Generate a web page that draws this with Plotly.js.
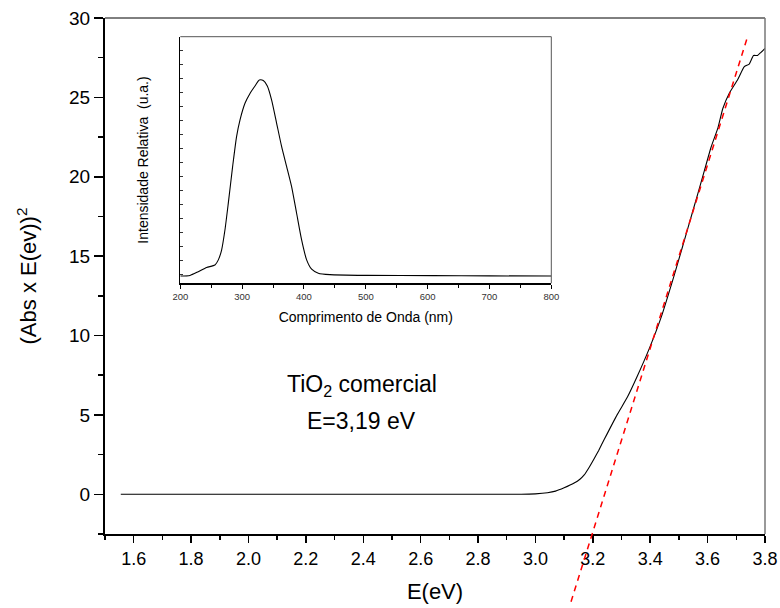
<!DOCTYPE html>
<html>
<head>
<meta charset="utf-8">
<script src="https://cdn.plot.ly/plotly-3.0.1.min.js"></script>
<style>html,body{margin:0;padding:0;background:#fff;}#chart{width:780px;height:608px;}</style>
</head>
<body>
<div id="chart"></div>
<script>
// ---- Data: main Tauc plot ----
const energyEV = [1.555, 2.0, 2.5, 2.9, 2.95, 3.0, 3.042, 3.07, 3.10, 3.135, 3.155, 3.17, 3.188, 3.205, 3.22, 3.24, 3.286, 3.321, 3.356, 3.397, 3.438, 3.484, 3.531, 3.566, 3.589, 3.612, 3.636, 3.653, 3.676, 3.705, 3.728, 3.745, 3.76, 3.774, 3.786, 3.80];
const absTimesE2 = [0, 0, 0, 0, 0, 0.03, 0.1, 0.2, 0.41, 0.71, 0.95, 1.22, 1.72, 2.25, 2.75, 3.46, 5.05, 6.14, 7.48, 9.19, 11.14, 13.82, 16.75, 18.94, 20.4, 21.86, 23.08, 24.3, 25.28, 26.13, 26.94, 27.1, 27.64, 27.64, 27.84, 28.08];
// linear fit (tangent) endpoints
const fitEnergy = [3.124, 3.74];
const fitValue = [-6.77, 28.86];

// ---- Data: inset spectrum ----
const wavelengthNm = [200, 215.6, 229, 242.6, 256, 261.5, 266.8, 272.2, 277.6, 284.6, 291, 296.5, 304.6, 312.7, 320.8, 327.8, 334.2, 340.7, 347.7, 355.8, 363.9, 372, 380, 388.1, 396.2, 404.3, 412.4, 423.2, 442, 501.4, 609, 700, 800];
const relIntensity = [0.0297, 0.032, 0.047, 0.064, 0.074, 0.095, 0.135, 0.216, 0.324, 0.473, 0.595, 0.662, 0.73, 0.77, 0.80, 0.824, 0.822, 0.80, 0.743, 0.649, 0.554, 0.473, 0.392, 0.284, 0.176, 0.095, 0.057, 0.041, 0.035, 0.032, 0.031, 0.030, 0.0297];

// ---- Texts ----
const xTitle = 'E(eV)';
const yTitle = '(Abs x E(ev))<sup>2</sup>';
const insetXTitle = 'Comprimento de Onda (nm)';
const insetYTitle = 'Intensidade Relativa  (u.a.)';
const label1 = 'TiO<sub>2</sub> comercial';
const label2 = 'E=3,19 eV';

// ---- Layout geometry ----
const W = 780, H = 608;
const M = {l: 105, r: 15, t: 18, b: 0};
const plotH = H - M.t - M.b;
const plotW = W - M.l - M.r;
const mainBottomPx = 534;
const dMain = (H - M.b - mainBottomPx) / plotH;
const xRange = [1.5, 3.8];
const yRange = [-2.5, 30];
const y2Min = yRange[1] - (yRange[1] - yRange[0]) / (1 - dMain);
const inset = {x0: 180.3, x1: 551.3, y0: 36.7, y1: 283.3};
const insetXDom = [(inset.x0 - M.l) / plotW, (inset.x1 - M.l) / plotW];
const insetYDom = [(H - M.b - inset.y1) / plotH, (H - M.b - inset.y0) / plotH];

const FONT = 'Liberation Sans, Arial, sans-serif';

const traces = [
  {x: energyEV, y: absTimesE2, type: 'scatter', mode: 'lines', xaxis: 'x', yaxis: 'y',
   line: {color: '#000', width: 1.1, shape: 'spline', smoothing: 0.5}, hoverinfo: 'skip', showlegend: false},
  {x: fitEnergy, y: fitValue, type: 'scatter', mode: 'lines', xaxis: 'x2', yaxis: 'y2',
   line: {color: '#ff0000', width: 1.5, dash: '6px,5px'}, hoverinfo: 'skip', showlegend: false},
  {x: wavelengthNm, y: relIntensity, type: 'scatter', mode: 'lines', xaxis: 'x3', yaxis: 'y3',
   line: {color: '#000', width: 1.1, shape: 'spline', smoothing: 0.6}, hoverinfo: 'skip', showlegend: false}
];

const layout = {
  width: W, height: H,
  margin: M,
  paper_bgcolor: '#fff',
  plot_bgcolor: 'rgba(0,0,0,0)',
  font: {family: FONT, color: '#000'},
  showlegend: false,
  xaxis: {
    domain: [0, 1], anchor: 'y', range: xRange,
    showline: true, linewidth: 2, linecolor: '#000',
    showgrid: false, zeroline: false,
    ticks: 'outside', ticklen: 7, tickwidth: 1.5, tickcolor: '#000',
    tick0: 0, dtick: 0.2, tickformat: '.1f',
    minor: {dtick: 0.1, tick0: 0, ticks: 'outside', ticklen: 4, tickwidth: 1.5, tickcolor: '#000'},
    tickfont: {size: 18, family: FONT, color: '#000'},
    title: {text: xTitle, font: {size: 22, family: FONT, color: '#000'}, standoff: 16}
  },
  yaxis: {
    domain: [dMain, 1], anchor: 'x', range: yRange,
    showline: true, linewidth: 2, linecolor: '#000',
    showgrid: false, zeroline: false,
    ticks: 'outside', ticklen: 9, tickwidth: 1.5, tickcolor: '#000',
    tick0: 0, dtick: 5,
    minor: {dtick: 2.5, tick0: 0, ticks: 'outside', ticklen: 5, tickwidth: 1.5, tickcolor: '#000'},
    tickfont: {size: 19, family: FONT, color: '#000'},
    title: {text: yTitle, font: {size: 22, family: FONT, color: '#000'}, standoff: 26}
  },
  xaxis2: {domain: [0, 1], anchor: 'y2', range: xRange, visible: false, fixedrange: true},
  yaxis2: {domain: [0, 1], anchor: 'x2', range: [y2Min, yRange[1]], visible: false, fixedrange: true},
  xaxis3: {
    domain: insetXDom, anchor: 'y3', range: [200, 800],
    showline: true, linewidth: 1.5, linecolor: '#000',
    showgrid: false, zeroline: false,
    ticks: 'outside', ticklen: 4, tickwidth: 1, tickcolor: '#000',
    tick0: 0, dtick: 100,
    minor: {dtick: 50, tick0: 0, ticks: 'outside', ticklen: 3, tickwidth: 1, tickcolor: '#000'},
    tickfont: {size: 9.5, family: FONT, color: '#333'},
    title: {text: insetXTitle, font: {size: 14, family: FONT, color: '#000'}, standoff: 11}
  },
  yaxis3: {
    domain: insetYDom, anchor: 'x3', range: [0, 1],
    showline: true, linewidth: 1.2, linecolor: '#000',
    showgrid: false, zeroline: false,
    ticks: 'inside', ticklen: 2.5, tickwidth: 1, tickcolor: '#333',
    tick0: 0.034, dtick: 0.057, showticklabels: false,
    title: {text: insetYTitle, font: {size: 14, family: FONT, color: '#000'}, standoff: 27}
  },
  shapes: [
    {type: 'line', xref: 'x domain', yref: 'y domain', x0: 0, x1: 1, y0: 1, y1: 1, line: {color: '#000', width: 1}},
    {type: 'line', xref: 'x domain', yref: 'y domain', x0: 1, x1: 1, y0: 0, y1: 1, line: {color: '#777', width: 1.5}},
    {type: 'line', xref: 'x3 domain', yref: 'y3 domain', x0: 0, x1: 1, y0: 1, y1: 1, line: {color: '#555', width: 1}},
    {type: 'line', xref: 'x3 domain', yref: 'y3 domain', x0: 1, x1: 1, y0: 0, y1: 1, line: {color: '#555', width: 1}}
  ],
  annotations: [
    {text: label1, x: 2.395, y: 6.87, xref: 'x', yref: 'y', showarrow: false, xanchor: 'center', yanchor: 'middle',
     font: {size: 23, family: FONT, color: '#000'}},
    {text: label2, x: 2.395, y: 4.6, xref: 'x', yref: 'y', showarrow: false, xanchor: 'center', yanchor: 'middle',
     font: {size: 23, family: FONT, color: '#000'}}
  ]
};

Plotly.newPlot('chart', traces, layout, {staticPlot: true, displayModeBar: false});
</script>
</body>
</html>
